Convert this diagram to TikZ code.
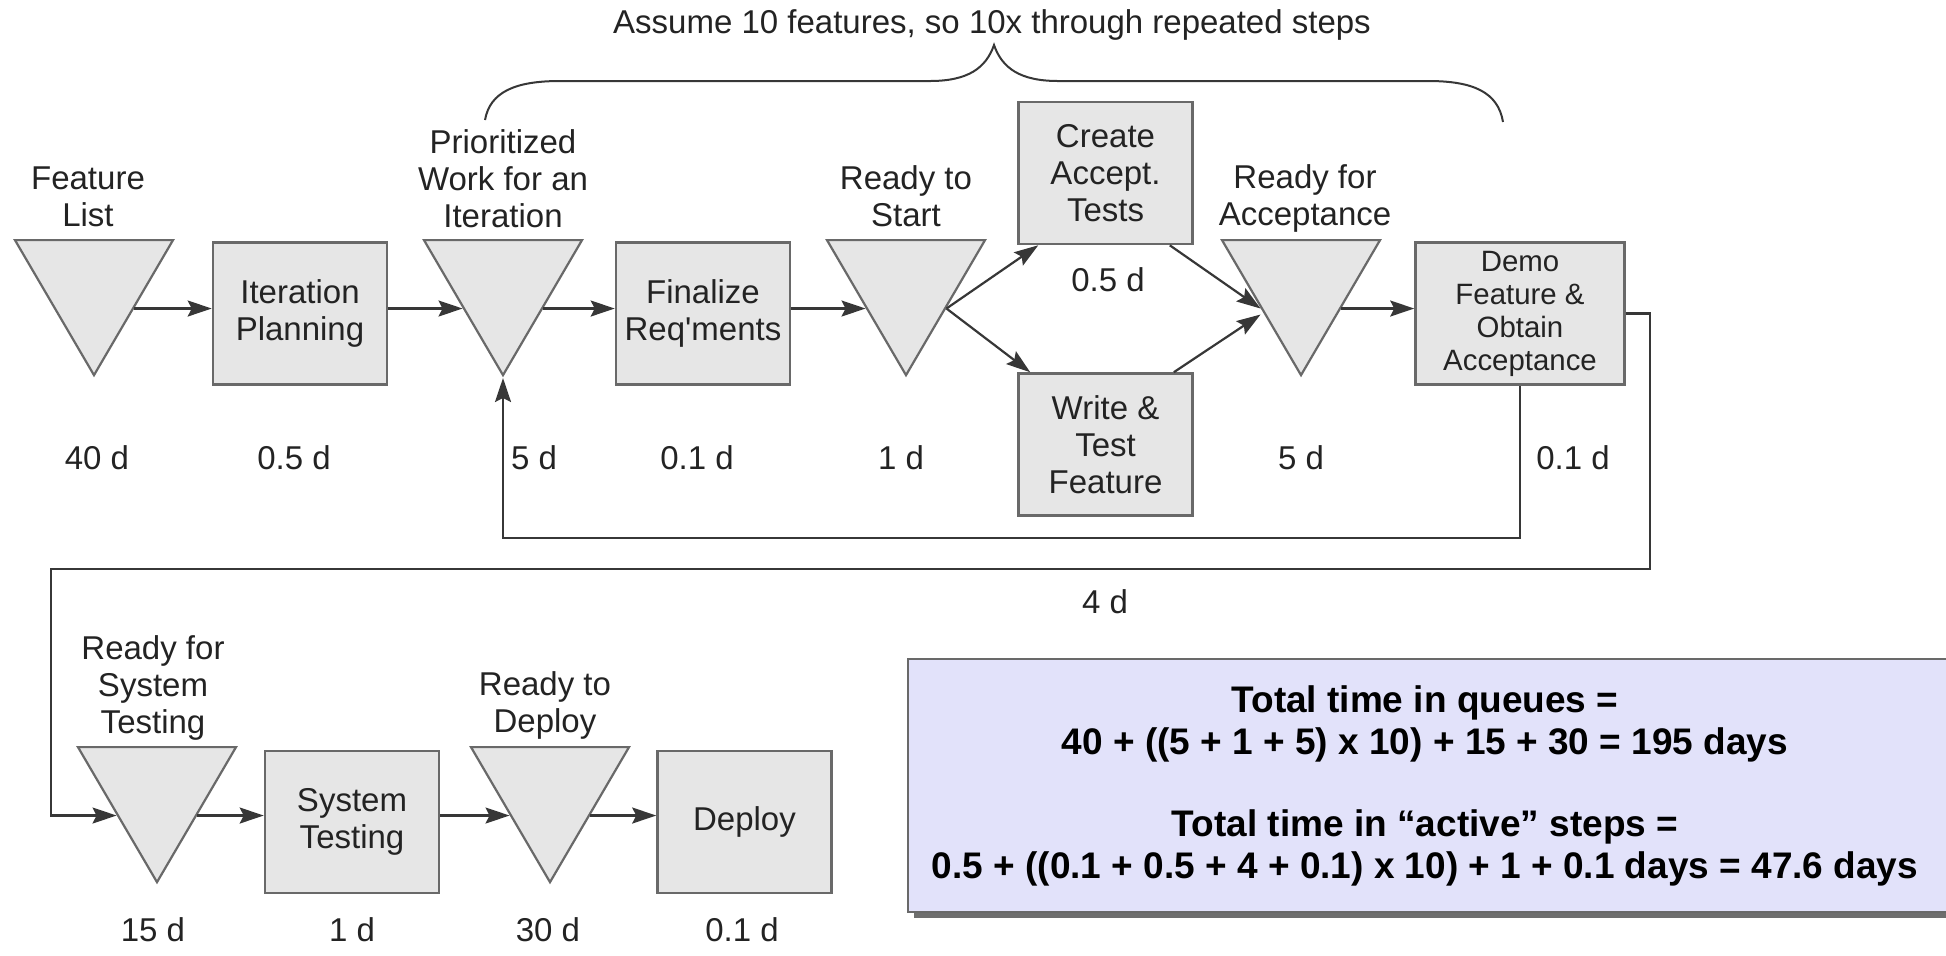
\documentclass[tikz,border=0pt]{standalone}
\usepackage{fontspec}
\setmainfont{Liberation Sans}
\usetikzlibrary{arrows.meta,shapes.geometric}

\definecolor{boxfill}{RGB}{230,230,230}
\definecolor{boxline}{RGB}{105,105,105}
\definecolor{flowline}{RGB}{55,55,55}
\definecolor{labeltext}{RGB}{35,35,35}
\definecolor{sumfill}{RGB}{226,226,250}
\definecolor{sumshadow}{RGB}{110,110,110}

\tikzset{
  activity/.style={draw=boxline,fill=boxfill,line width=1.3pt,minimum width=87pt,minimum height=71pt,align=center,inner sep=2pt},
  queue/.style={isosceles triangle,isosceles triangle stretches,shape border rotate=270,draw=boxline,fill=boxfill,line width=1.1pt,minimum width=79pt,minimum height=67.5pt,inner sep=0pt,anchor=apex},
  caption/.style={align=center},
  flow/.style={->,draw=flowline,line width=1.1pt},
  brace/.style={draw=flowline,line width=1pt},
}

\begin{document}
\begin{tikzpicture}[x=0.5pt,y=-0.5pt,>={Stealth[length=12pt,width=8pt,inset=2pt]},
  font=\fontsize{16.5}{18.5}\selectfont,text=labeltext]
\useasboundingbox (0,0) rectangle (1946,955);

% repeated part
\node (title) at (992,25) {Assume 10 features, so 10x through repeated steps};
\draw[brace] (485,120) .. controls (490,92) and (515,81) .. (560,81) -- (930,81)
  .. controls (968,81) and (986,68) .. (994,45)
  .. controls (1002,68) and (1020,81) .. (1058,81) -- (1428,81)
  .. controls (1473,81) and (1498,92) .. (1503,122);

% first row
\node[queue] (fl) at (94,378) {};
\node[activity] (ip) at (300,313.5) {Iteration\\Planning};
\node[queue] (pw) at (503,378) {};
\node[activity] (fr) at (703,313.5) {Finalize\\Req\textquotesingle ments};
\node[queue] (rs) at (906,378) {};
\node[activity] (ca) at (1105.5,173) {Create\\Accept.\\Tests};
\node[activity] (wt) at (1105.5,444.5) {Write \&\\Test\\Feature};
\node[queue] (ra) at (1301,378) {};
\node[activity,minimum width=104.5pt,font=\fontsize{14.7}{16.5}\selectfont] (demo) at (1520,313.5) {Demo\\Feature \&\\Obtain\\Acceptance};

\node[caption] (flcap) at (88,197) {Feature\\List};
\node[caption] (pwcap) at (503,179) {Prioritized\\Work for an\\Iteration};
\node[caption] (rscap) at (906,196) {Ready to\\Start};
\node[caption] (racap) at (1305,198) {Ready for\\Acceptance};

\node (fltime) at (97,458) {40 d};
\node (iptime) at (294,458) {0.5 d};
\node (pwtime) at (534,458) {5 d};
\node (frtime) at (697,458) {0.1 d};
\node (rstime) at (901,458) {1 d};
\node (catime) at (1108,280) {0.5 d};
\node (ratime) at (1301,458) {5 d};
\node (demotime) at (1573,458) {0.1 d};
\node (wttime) at (1105,602) {4 d};

\draw[flow] (fl.left side) -- (fl.left side -| ip.west);
\draw[flow] (ip.east |- pw.right side) -- (pw.right side);
\draw[flow] (pw.left side) -- (pw.left side -| fr.west);
\draw[flow] (fr.east |- rs.right side) -- (rs.right side);
\draw[flow] (rs.left side) -- ([xshift=10.5pt]ca.south west);
\draw[flow] (rs.left side) -- ([xshift=6.5pt]wt.north west);
\draw[flow] ([xshift=-12pt]ca.south east) -- (ra.right side);
\draw[flow] ([xshift=-10pt]wt.north east) -- ([yshift=-3pt]ra.right side);
\draw[flow] (ra.left side) -- (ra.left side -| demo.west);
% back for the next feature
\draw[flow] (demo.south) |- ([yshift=-80pt]pw.apex) -- (pw.apex);

% second row
\node[queue] (rst) at (157,885) {};
\node[activity] (st) at (352,822) {System\\Testing};
\node[queue] (rtd) at (550,885) {};
\node[activity] (dp) at (744.5,822) {Deploy};

\node[caption] (rstcap) at (153,688) {Ready for\\System\\Testing};
\node[caption] (rtdcap) at (545,705) {Ready to\\Deploy};

\node (rsttime) at (153,930) {15 d};
\node (sttime) at (352,930) {1 d};
\node (rtdtime) at (548,930) {30 d};
\node (dptime) at (742,930) {0.1 d};

\coordinate (turnR) at (1650,569);
\coordinate (turnL) at (51,569);
\draw[flow] (demo.east) -| (turnR) -- (turnL) |- (rst.right side);
\draw[flow] (rst.left side) -- (rst.left side -| st.west);
\draw[flow] (st.east |- rtd.right side) -- (rtd.right side);
\draw[flow] (rtd.left side) -- (rtd.left side -| dp.west);

% totals
\fill[sumshadow] (914,665) rectangle (1996,918);
\draw[draw=boxline,fill=sumfill,line width=1.3pt] (908,659) rectangle (1990,912);
\node[align=center,text=black,font=\bfseries\fontsize{18.5}{21}\selectfont] (totals) at (1425,786)
  {Total time in queues =\\40 + ((5 + 1 + 5) x 10) + 15 + 30 = 195 days\\[20pt]
   Total time in “active” steps =\\0.5 + ((0.1 + 0.5 + 4 + 0.1) x 10) + 1 + 0.1 days = 47.6 days};
\end{tikzpicture}
\end{document}
